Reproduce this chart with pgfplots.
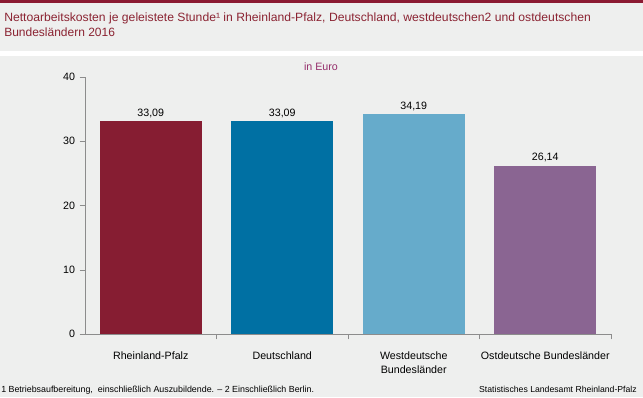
\documentclass[border=0pt]{standalone}
\usepackage{pgfplots}
\pgfplotsset{compat=1.18}
\usepackage{fontspec}
\setmainfont{Liberation Sans}
\usepackage{graphicx}
\definecolor{bg}{HTML}{EEEFEE}
\definecolor{topred}{HTML}{8B1A32}
\definecolor{titlecol}{HTML}{8B2332}
\definecolor{cA}{HTML}{861D32}
\definecolor{cB}{HTML}{0070A3}
\definecolor{cC}{HTML}{66ABCB}
\definecolor{cD}{HTML}{8A6592}
\definecolor{euro}{HTML}{952E6B}
\definecolor{axgray}{HTML}{8C8C8C}
\begin{document}
\begin{tikzpicture}[x=0.75pt,y=0.75pt]
\fill[bg] (0,0) rectangle (643,397);
\useasboundingbox (0,0) rectangle (643,397);
\fill[topred] (0,394) rectangle (643,397);
\fill[white] (0,341) rectangle (643,346);
\node[anchor=base west,inner sep=0pt,text=titlecol,font=\fontsize{9}{11}\selectfont] at (4,375)
  {\resizebox{440pt}{\height}{Nettoarbeitskosten je geleistete Stunde¹ in Rheinland-Pfalz, Deutschland, westdeutschen2 und ostdeutschen}};
\node[anchor=base west,inner sep=0pt,text=titlecol,font=\fontsize{9}{11}\selectfont] at (4,360)
  {Bundesländern 2016};
\node[anchor=base west,inner sep=0pt,font=\fontsize{6.65}{8}\selectfont] at (1,5)
  {1 Betriebsaufbereitung,\ \ einschließlich Auszubildende. -- 2 Einschließlich Berlin.};
\node[anchor=base east,inner sep=0pt,font=\fontsize{6.5}{8}\selectfont] at (637,5)
  {Statistisches Landesamt Rheinland-Pfalz};
\node[anchor=base,inner sep=0pt,text=euro,font=\fontsize{8}{9}\selectfont] at (321,326) {in Euro};
\begin{axis}[
  at={(63.75pt,47.25pt)}, anchor=south west,
  scale only axis, width=394.5pt, height=192.75pt,
  xmin=-0.5, xmax=3.5, ymin=0, ymax=40,
  ybar, bar width=76.5pt, bar shift=0pt,
  axis x line*=bottom, axis y line*=left,
  axis line style={axgray},
  xtick={0,1,2,3},
  xticklabels={Rheinland-Pfalz,Deutschland,{Westdeutsche\\Bundesländer},Ostdeutsche Bundesländer},
  x tick label style={align=center,anchor=north,yshift=-6pt,font=\fontsize{8}{10.5}\selectfont},
  major x tick style={draw=none},
  minor xtick={0.5,1.5,2.5,3.5},
  minor x tick style={axgray},
  minor tick length=4pt,
  ytick={0,10,20,30,40},
  y tick label style={font=\fontsize{8}{9}\selectfont},
  major y tick style={axgray},
  major tick length=4pt,
  tick align=outside,
  /pgf/number format/assume math mode=true,
  nodes near coords,
  nodes near coords style={font=\fontsize{8}{9}\selectfont,yshift=-0.7pt,
    /pgf/number format/.cd,fixed,fixed zerofill,precision=2,use comma},
  axis background/.style={fill=none},
  clip=false,
]
\addplot[fill=cA,draw=none] coordinates {(0,33.09)};
\addplot[fill=cB,draw=none] coordinates {(1,33.09)};
\addplot[fill=cC,draw=none] coordinates {(2,34.19)};
\addplot[fill=cD,draw=none] coordinates {(3,26.14)};
\end{axis}
\end{tikzpicture}
\end{document}
